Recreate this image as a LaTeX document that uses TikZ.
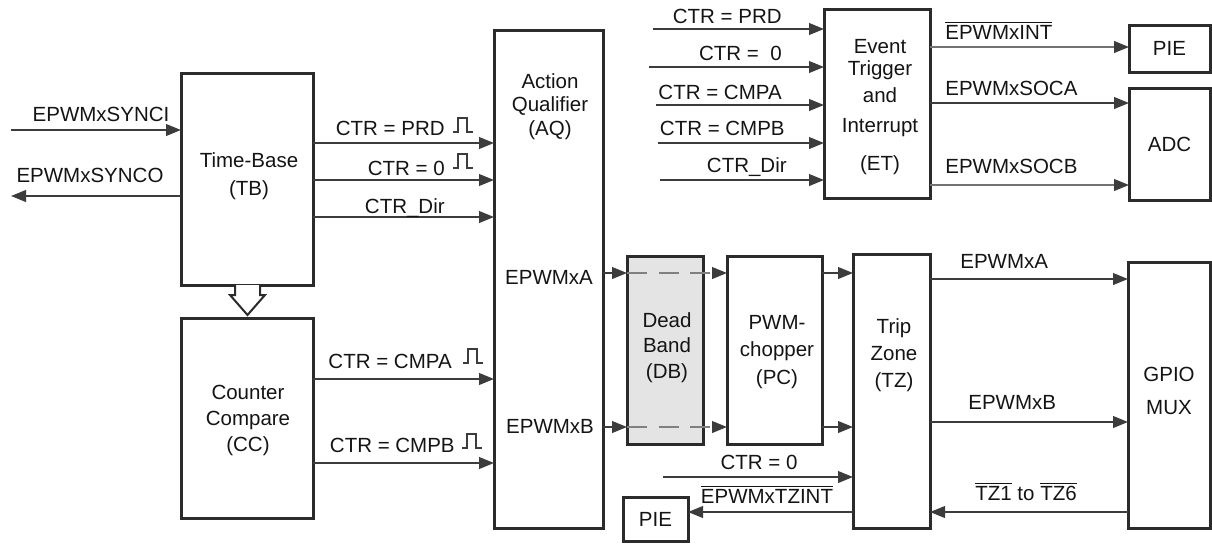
\documentclass[tikz,border=0pt]{standalone}
\usepackage{fontspec}
\setmainfont{Liberation Sans}
\usetikzlibrary{arrows.meta}

\definecolor{boxline}{HTML}{2B2B2B}
\definecolor{sigline}{HTML}{3C3C3C}
\definecolor{dbfill}{HTML}{E4E4E4}
\newcommand{\ovl}[1]{$\overline{\hbox{#1}}$}

\tikzset{
  blk/.style={draw=boxline, line width=1.8pt, outer sep=0pt, inner sep=0pt},
  txt/.style={font=\fontsize{12.3}{14.4}\selectfont, text=black!92, inner sep=0pt},
  sig/.style={draw=sigline, line width=1.2pt, -{Triangle[length=9pt,width=7pt,color=sigline]}},
  pulse/.pic={\draw[sigline, line width=1pt] (0,0) -- (5,0) -- (5,-14) -- (14,-14) -- (14,0) -- (20,0);}
}

\begin{document}
\begin{tikzpicture}[x=0.6pt, y=-0.6pt]
  \useasboundingbox (0,0) rectangle (1212,543);

  % blocks
  \node[blk, minimum width=79.2pt, minimum height=127.2pt] (tb) at (247,179) {};
  \node[blk, minimum width=79.2pt, minimum height=120pt] (cc) at (247,418) {};
  \node[blk, minimum width=65.4pt, minimum height=298.8pt] (aq) at (548.5,279) {};
  \node[blk, fill=dbfill, minimum width=45.6pt, minimum height=112.8pt] (db) at (665,350) {};
  \node[blk, minimum width=57pt, minimum height=112.8pt] (pc) at (774.5,350) {};
  \node[blk, minimum width=46.2pt, minimum height=164.4pt] (tz) at (891.5,391) {};
  \node[blk, minimum width=49.2pt, minimum height=159.6pt] (gpio) at (1169,395) {};
  \node[blk, minimum width=63.6pt, minimum height=113.4pt] (et) at (877,103.5) {};
  \node[blk, minimum width=48.6pt, minimum height=28.2pt] (pietop) at (1169.5,48.5) {};
  \node[blk, minimum width=48.6pt, minimum height=67.2pt] (adc) at (1169.5,144) {};
  \node[blk, minimum width=39pt, minimum height=26.4pt] (piebot) at (655.5,519) {};

  % block texts
  \node[txt, align=center, anchor=north, font=\fontsize{12.3}{16.8}\selectfont] (tb-t) at (249,152) {Time-Base\\(TB)};
  \node[txt, align=center, anchor=north, font=\fontsize{12.3}{15.6}\selectfont] (cc-t) at (248,385) {Counter\\Compare\\(CC)};
  \node[txt, align=center, anchor=north, font=\fontsize{12.3}{14.1}\selectfont] (aq-t) at (550,73) {Action\\Qualifier\\(AQ)};
  \node[txt, align=center, anchor=north, font=\fontsize{12.3}{15.3}\selectfont] (db-t) at (667,312) {Dead\\Band\\(DB)};
  \node[txt, align=center, anchor=north, font=\fontsize{12.3}{16.5}\selectfont] (pc-t) at (777,315) {PWM-\\chopper\\(PC)};
  \node[txt, align=center, anchor=north, font=\fontsize{12.3}{16.2}\selectfont] (tz-t) at (894,318) {Trip\\Zone\\(TZ)};
  \node[txt, align=center, anchor=north, font=\fontsize{12.3}{19.8}\selectfont] (gpio-t) at (1169,367) {GPIO\\MUX};
  \node[txt, align=center, anchor=north, font=\fontsize{12.3}{13.2}\selectfont] (et-t) at (880,39)
    {Event\\Trigger\\[3pt]and\\[4.8pt]Interrupt\\[9.6pt](ET)};
  \node[txt] (pietop-t) at (pietop) {PIE};
  \node[txt] (adc-t) at (adc) {ADC};
  \node[txt] (piebot-t) at (piebot) {PIE};
  \node[txt, anchor=base] (aq-a) at (549,284) {EPWMxA};
  \node[txt, anchor=base] (aq-b) at (550,433) {EPWMxB};

  % time-base signals
  \coordinate (synci) at (11,130);
  \coordinate (synco) at (11,196);
  \draw[sig] (synci) -- (tb.west |- synci);
  \draw[sig] (tb.west |- synco) -- (synco);
  \node[txt, anchor=base] (synci-l) at (101,121) {EPWMxSYNCI};
  \node[txt, anchor=base] (synco-l) at (90,182) {EPWMxSYNCO};

  \foreach \y in {143,180,217} {
    \draw[sig] (tb.east |- 0,\y) -- (aq.west |- 0,\y);
  }
  \node[txt, anchor=base east] (tb-prd) at (445,135) {CTR = PRD};
  \node[txt, anchor=base east] (tb-zro) at (445,175) {CTR = 0};
  \node[txt, anchor=base east] (tb-dir) at (445,213) {CTR\_Dir};
  \pic at (453,132) {pulse};
  \pic at (453,168) {pulse};

  % counter compare signals
  \foreach \y in {379,463} {
    \draw[sig] (cc.east |- 0,\y) -- (aq.west |- 0,\y);
  }
  \node[txt, anchor=base east] (cc-cmpa) at (452,368) {CTR = CMPA};
  \node[txt, anchor=base east] (cc-cmpb) at (455,452) {CTR = CMPB};
  \pic at (463,363) {pulse};
  \pic at (462,448) {pulse};

  % pwm path
  \foreach \y in {273,427} {
    \draw[sig] (aq.east |- 0,\y) -- (db.west |- 0,\y);
    \draw[sig, draw=gray, dash pattern=on 12pt off 7pt] (db.west |- 0,\y) -- (pc.west |- 0,\y);
    \draw[sig] (pc.east |- 0,\y) -- (tz.west |- 0,\y);
  }

  % trip zone
  \draw[sig] (tz.east |- 0,279) -- (gpio.west |- 0,279);
  \draw[sig] (tz.east |- 0,422) -- (gpio.west |- 0,422);
  \draw[sig] (gpio.west |- 0,512) -- (tz.east |- 0,512);
  \node[txt, anchor=base west] (tz-a) at (960,268) {EPWMxA};
  \node[txt, anchor=base west] (tz-b) at (968,409) {EPWMxB};
  \node[txt, anchor=base west] (tz-in) at (975,500) {\ovl{TZ1} to \ovl{TZ6}};

  \coordinate (tzctr) at (663,477);
  \draw[sig] (tzctr) -- (tz.west |- tzctr);
  \draw[sig] (tz.west |- 0,512) -- (piebot.east |- 0,512);
  \node[txt, anchor=base] (tz-ctr) at (759,469) {CTR = 0};
  \node[txt, anchor=base] (tz-int) at (767,503) {\ovl{EPWMxTZINT}};

  % event trigger
  \coordinate (et1) at (653,29);
  \coordinate (et2) at (649,67);
  \coordinate (et3) at (656,105);
  \coordinate (et4) at (658,143);
  \coordinate (et5) at (660,180);
  \foreach \c in {et1,et2,et3,et4,et5} {
    \draw[sig] (\c) -- (et.west |- \c);
  }
  \node[txt, anchor=base east] (et-prd) at (782,23) {CTR = PRD};
  \node[txt, anchor=base east] (et-zro) at (782,60) {CTR =~~0};
  \node[txt, anchor=base east] (et-cmpa) at (782,99) {CTR = CMPA};
  \node[txt, anchor=base east] (et-cmpb) at (785,135) {CTR = CMPB};
  \node[txt, anchor=base east] (et-dir) at (787,172) {CTR\_Dir};

  \draw[sig, draw=black!55] (et.east |- 0,47) -- (pietop.west |- 0,47);
  \draw[sig] (et.east |- 0,103) -- (adc.west |- 0,103);
  \draw[sig, draw=black!55] (et.east |- 0,185) -- (adc.west |- 0,185);
  \node[txt, anchor=base west] (et-int) at (945,39) {\ovl{EPWMxINT}};
  \node[txt, anchor=base west] (et-soca) at (945,95) {EPWMxSOCA};
  \node[txt, anchor=base west] (et-socb) at (945,173) {EPWMxSOCB};

  % hollow arrow from TB to CC
  \draw[draw=boxline, line width=1.2pt, fill=white]
    (235,285) -- (235,295) -- (230,295) -- (247.5,315) -- (265,295) -- (260,295) -- (260,285);
\end{tikzpicture}
\end{document}
